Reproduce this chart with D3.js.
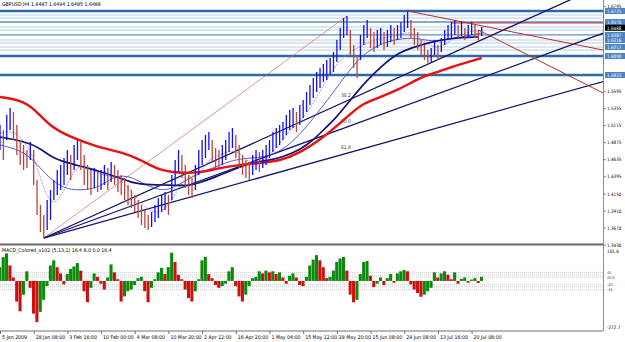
<!DOCTYPE html>
<html>
<head>
<meta charset="utf-8">
<script src="https://cdn.jsdelivr.net/npm/d3@7"></script>
<style>
  body { margin: 0; background: #fff; }
  text { font-family: "DejaVu Sans Condensed", "Liberation Sans", sans-serif; }
</style>
</head>
<body>
<div id="chart"></div>
<script>
// ---- data ----
const barHigh = [
  1.5118,1.5047,1.5259,1.5357,1.5301,1.5118,1.4906,1.4836,1.4765,1.4878,
  1.4765,1.4342,1.3990,1.3849,1.4060,1.4201,1.4342,1.4483,1.4554,1.4652,
  1.4765,1.4695,1.4836,1.4906,1.4878,1.4695,1.4554,1.4483,1.4511,1.4455,
  1.4483,1.4554,1.4511,1.4596,1.4554,1.4483,1.4413,1.4370,1.4272,1.4201,
  1.4131,1.4060,1.3990,1.3919,1.3849,1.3891,1.3990,1.4088,1.4131,1.4173,
  1.4131,1.4413,1.4624,1.4765,1.4695,1.4554,1.4413,1.4370,1.4554,1.4765,
  1.4906,1.4977,1.5019,1.4906,1.4793,1.4765,1.4836,1.4906,1.5019,1.5075,
  1.4977,1.4836,1.4695,1.4624,1.4596,1.4695,1.4765,1.4737,1.4765,1.4836,
  1.4906,1.5019,1.5075,1.5118,1.5160,1.5259,1.5329,1.5357,1.5301,1.5400,
  1.5470,1.5583,1.5682,1.5780,1.5865,1.5921,1.5978,1.6034,1.6062,1.6147,
  1.6316,1.6485,1.6626,1.6654,1.6457,1.6246,1.6105,1.6387,1.6528,1.6598,
  1.6485,1.6429,1.6457,1.6485,1.6429,1.6457,1.6528,1.6485,1.6528,1.6570,
  1.6669,1.6725,1.6598,1.6485,1.6429,1.6316,1.6246,1.6175,1.6203,1.6316,
  1.6246,1.6344,1.6457,1.6528,1.6570,1.6598,1.6528,1.6570,1.6485,1.6528,
  1.6570,1.6528,1.6457,1.6499
];
const barLow = [
  1.4765,1.4624,1.4906,1.5047,1.4906,1.4695,1.4554,1.4483,1.4511,1.4624,
  1.4272,1.3849,1.3609,1.3524,1.3637,1.3778,1.4060,1.4131,1.4201,1.4272,
  1.4413,1.4342,1.4483,1.4624,1.4483,1.4272,1.4201,1.4131,1.4229,1.4173,
  1.4201,1.4272,1.4201,1.4314,1.4272,1.4173,1.4131,1.4060,1.3990,1.3947,
  1.3891,1.3806,1.3708,1.3665,1.3637,1.3679,1.3750,1.3806,1.3891,1.3919,
  1.3849,1.4060,1.4272,1.4455,1.4370,1.4229,1.4131,1.4088,1.4201,1.4413,
  1.4554,1.4652,1.4765,1.4596,1.4511,1.4511,1.4554,1.4624,1.4737,1.4793,
  1.4652,1.4511,1.4413,1.4370,1.4342,1.4413,1.4483,1.4455,1.4511,1.4554,
  1.4652,1.4737,1.4793,1.4836,1.4906,1.4977,1.5047,1.5075,1.5019,1.5118,
  1.5216,1.5301,1.5400,1.5498,1.5583,1.5639,1.5724,1.5752,1.5823,1.5865,
  1.6006,1.6175,1.6344,1.6387,1.6105,1.5921,1.5780,1.6034,1.6246,1.6344,
  1.6203,1.6147,1.6203,1.6246,1.6175,1.6217,1.6288,1.6246,1.6316,1.6344,
  1.6429,1.6485,1.6344,1.6246,1.6175,1.6105,1.6034,1.5992,1.6006,1.6105,
  1.6034,1.6147,1.6246,1.6316,1.6344,1.6387,1.6344,1.6372,1.6316,1.6344,
  1.6387,1.6344,1.6316,1.6372
];

// moving averages, [bar, price]
const maRed = [[0,1.5512],[6,1.5470],[10,1.5357],[15,1.5089],[21,1.4948],[25,1.4878],[30,1.4793],
  [36,1.4737],[42,1.4624],[47,1.4483],[53,1.4441],[59,1.4441],[65,1.4511],[71,1.4554],[77,1.4582],
  [83,1.4610],[89,1.4723],[95,1.4906],[101,1.5146],[104,1.5273],[108,1.5428],[113,1.5512],
  [118,1.5611],[123,1.5738],[126,1.5808],[130,1.5865],[134,1.5935],[139,1.6006],[143,1.6062]];
const maNavy = [[0,1.4948],[10,1.4864],[15,1.4666],[20,1.4582],[25,1.4525],[30,1.4455],[35,1.4384],
  [39,1.4300],[45,1.4272],[50,1.4272],[56,1.4257],[59,1.4300],[64,1.4384],[69,1.4483],[74,1.4582],
  [79,1.4610],[84,1.4666],[89,1.4765],[93,1.4906],[96,1.5047],[100,1.5230],[104,1.5470],[109,1.5752],
  [113,1.5935],[118,1.6133],[123,1.6217],[128,1.6288],[134,1.6344],[142,1.6358]];
const maBlue = [[0,1.4836],[6,1.4765],[10,1.4624],[15,1.4342],[20,1.4201],[25,1.4201],[30,1.4243],
  [33,1.4384],[38,1.4413],[42,1.4300],[47,1.4201],[50,1.4201],[54,1.4300],[59,1.4441],[64,1.4525],
  [69,1.4624],[74,1.4652],[79,1.4666],[84,1.4765],[89,1.4977],[95,1.5329],[101,1.5710],[106,1.6034],
  [111,1.6217],[116,1.6316],[123,1.6358],[128,1.6288],[133,1.6330],[137,1.6358],[143,1.6415]];
const maFast = [[0,1.500],[4,1.505],[8,1.485],[11,1.455],[14,1.405],[17,1.400],[20,1.430],[23,1.455],
  [26,1.455],[30,1.440],[34,1.440],[38,1.425],[42,1.400],[46,1.385],[50,1.395],[53,1.425],[56,1.440],
  [59,1.440],[62,1.465],[66,1.470],[70,1.480],[74,1.455],[78,1.460],[82,1.478],[86,1.505],[90,1.520],
  [94,1.550],[98,1.585],[102,1.610],[106,1.620],[110,1.630],[114,1.635],[118,1.638],[122,1.645],
  [126,1.628],[130,1.618],[134,1.632],[138,1.643],[143,1.645]];

// fibonacci fan: low and high points [bar, price], levels
const fanStart = [13, 1.3524];
const fanEnd = [103, 1.6654];
const fanLevels = [0.382, 0.5, 0.618];

// red channel lines from the last top
const redLines = [
  [[121, 1.6725], [179, 1.6175]],
  [[142, 1.6457], [179, 1.5569]]
];
const redLevel = { price: 1.6556, from: 134 };

// horizontal lines
const levelsMajor = [1.6725, 1.6090, 1.5823];
const levelsMid = [1.6570, 1.6387];
const levelsMinor = [1.6669, 1.6626, 1.6499, 1.6457, 1.6316, 1.6274, 1.6217, 1.6175];
const levelTags = [1.6725, 1.6570, 1.6387, 1.6316, 1.6217, 1.6090, 1.5823];
const lastPrice = 1.6488;

const priceTicks = [1.6795, 1.5595, 1.5355, 1.5115, 1.4875, 1.4635, 1.4395, 1.4150, 1.3910, 1.3670, 1.3430];

// MACD histogram
const macdHist = [
  40,69,80,45,10,-60,-88,-40,28,-20,
  -95,-120,-90,-55,-15,45,60,40,22,-10,
  20,35,42,52,30,-30,-62,-20,22,12,
  -8,-25,10,48,25,5,-60,-45,-30,-25,
  -12,8,12,-30,-62,-20,5,25,38,20,
  40,82,55,18,5,-25,-50,-60,-30,5,
  60,70,20,8,-12,-20,-15,-8,28,40,
  -15,-45,-60,-40,-15,8,12,28,22,30,
  25,28,20,25,10,-8,15,22,10,-12,
  -15,12,45,62,75,60,40,8,12,30,
  55,65,70,30,-40,-62,-55,20,55,58,
  15,-18,-8,10,-12,8,20,-5,22,28,
  32,28,-10,-25,-35,-46,-40,-30,-20,25,
  10,22,28,18,5,25,-8,6,10,-5,
  4,8,-6,12
];
const macdLevels = [25, 17, 11, -11, -17, -25];
const macdLabelValues = [25, 11, -11, -25];
const macdLevelLabels = ["45", "20.0", "-20", "-45"];
const macdMax = "101.6", macdMin = "-272.7";

const timeLabels = ["5 Jan 2009", "28 Jan 08:00", "3 Feb 16:00", "10 Feb 00:00", "4 Mar 08:00",
  "10 Mar 20:00", "2 Apr 12:00", "16 Apr 20:00", "1 May 04:00", "15 May 12:00",
  "29 May 20:00", "15 Jun 08:00", "29 Jun 08:00", "13 Jul 16:00", "20 Jul 08:00"];
const timeTickBars = [0, 10, 20, 30, 40, 50, 60, 70, 80, 90, 100, 110, 120, 130, 140];

// ---- layout ----
const W = 625, H = 342;
const plotRight = 603;
const mainBottom = 243;
const macdTop = 246, macdBottom = 331;

const svg = d3.select("#chart").append("svg")
    .attr("width", W)
    .attr("height", H)
    .style("display", "block");

svg.append("rect").attr("width", W).attr("height", H).attr("fill", "#fff");

const x = d3.scaleLinear().domain([0, 179]).range([0, plotRight]);
const y = d3.scaleLinear().domain([1.34537, 1.688]).range([mainBottom, 0]);
const yM = d3.scaleLinear().domain([-145.6, 101.6]).range([macdBottom, macdTop]);

svg.append("clipPath").attr("id", "clipMain")
    .append("rect").attr("x", 0).attr("y", 0).attr("width", plotRight).attr("height", mainBottom);
svg.append("clipPath").attr("id", "clipMacd")
    .append("rect").attr("x", 0).attr("y", macdTop).attr("width", plotRight).attr("height", macdBottom - macdTop);

const main = svg.append("g").attr("clip-path", "url(#clipMain)");

// horizontal lines
function hlines(data, color, width) {
    main.selectAll(null).data(data).enter().append("line")
        .attr("x1", 0).attr("x2", plotRight)
        .attr("y1", d => y(d)).attr("y2", d => y(d))
        .attr("stroke", color).attr("stroke-width", width);
}
hlines(levelsMinor, "#b4cfe8", 1);
hlines(levelsMid, "#5b8fc6", 1.3);
hlines(levelsMajor, "#2f6aa8", 2.6);

// red horizontal
main.append("line")
    .attr("x1", x(redLevel.from)).attr("x2", plotRight)
    .attr("y1", y(redLevel.price)).attr("y2", y(redLevel.price))
    .attr("stroke", "#c0302c").attr("stroke-width", 1);

// fib fan
const fanX = 200;
main.append("line")
    .attr("x1", x(fanStart[0])).attr("y1", y(fanStart[1]))
    .attr("x2", x(fanEnd[0])).attr("y2", y(fanEnd[1]))
    .attr("stroke", "#d06a5a").attr("stroke-width", 0.7);

fanLevels.forEach(function(lv) {
    let p = fanEnd[1] - lv * (fanEnd[1] - fanStart[1]);
    let slope = (p - fanStart[1]) / (fanEnd[0] - fanStart[0]);
    main.append("line")
        .attr("x1", x(fanStart[0])).attr("y1", y(fanStart[1]))
        .attr("x2", x(fanX)).attr("y2", y(fanStart[1] + slope * (fanX - fanStart[0])))
        .attr("stroke", "#14146e").attr("stroke-width", 1.3);
    main.append("text")
        .attr("x", x(fanEnd[0]) - 6).attr("y", y(p) - 4)
        .attr("font-size", 5).attr("fill", "#444")
        .text(lv === 0.5 ? "50.0" : (lv * 100).toFixed(1));
});

// MAs
const maLine = d3.line().x(d => x(d[0])).y(d => y(d[1])).curve(d3.curveBasis);
main.append("path").datum(maFast).attr("d", maLine)
    .attr("fill", "none").attr("stroke", "#9c7cc4").attr("stroke-width", 0.8)
    .attr("stroke-dasharray", "2,1");
main.append("path").datum(maBlue).attr("d", maLine)
    .attr("fill", "none").attr("stroke", "#4a4ad0").attr("stroke-width", 0.9);
main.append("path").datum(maNavy).attr("d", maLine)
    .attr("fill", "none").attr("stroke", "#12127a").attr("stroke-width", 1.7);
main.append("path").datum(maRed).attr("d", maLine)
    .attr("fill", "none").attr("stroke", "#e81010").attr("stroke-width", 2.4);

// price bars
const bars = barHigh.map((h, i) => ({ i: i, h: h, l: barLow[i], m: (h + barLow[i]) / 2 }));
main.selectAll(".bar").data(bars).enter().append("line")
    .attr("class", "bar")
    .attr("x1", d => x(d.i)).attr("x2", d => x(d.i))
    .attr("y1", d => y(d.h)).attr("y2", d => y(d.l))
    .attr("stroke", (d, i) => (i === 0 || d.m >= bars[i - 1].m) ? "#1010f0" : "#b8453c")
    .attr("stroke-width", 1.3);

// red channel lines
main.selectAll(".redline").data(redLines).enter().append("line")
    .attr("x1", d => x(d[0][0])).attr("y1", d => y(d[0][1]))
    .attr("x2", d => x(d[1][0])).attr("y2", d => y(d[1][1]))
    .attr("stroke", "#b4302c").attr("stroke-width", 1);

// title
svg.append("text").attr("x", 2).attr("y", 6).attr("font-size", 5.2).attr("fill", "#000")
    .text("GBPUSD,H4  1.6487 1.6494 1.6485 1.6488");

// separator
svg.append("line").attr("x1", 0).attr("x2", plotRight).attr("y1", 244.5).attr("y2", 244.5)
    .attr("stroke", "#6a6a6a").attr("stroke-width", 2);

// ---- MACD panel ----
const macd = svg.append("g").attr("clip-path", "url(#clipMacd)");
macd.selectAll(".lvl").data(macdLevels).enter().append("line")
    .attr("x1", 0).attr("x2", plotRight)
    .attr("y1", d => yM(d)).attr("y2", d => yM(d))
    .attr("stroke", "#bdbdbd").attr("stroke-width", 0.8).attr("stroke-dasharray", "1,1");

const bw = x(1) - x(0);
macd.selectAll(".hist").data(macdHist).enter().append("rect")
    .attr("x", (d, i) => x(i) - bw / 2)
    .attr("width", bw - 0.3)
    .attr("y", d => yM(Math.max(0, d)))
    .attr("height", d => Math.abs(yM(d) - yM(0)))
    .attr("fill", (d, i) => (i === 0 || d >= macdHist[i - 1]) ? "#0a8a0a" : "#cc1010");

svg.append("text").attr("x", 2).attr("y", 252).attr("font-size", 5.2).attr("fill", "#000")
    .text("MACD_Colored_v102 (5,13,1) 16.4 8.0 0.0 16.4");

// ---- right axis ----
const yAxis = d3.axisRight(y).tickValues(priceTicks).tickSize(3).tickFormat(d3.format(".4f"));
const gY = svg.append("g").attr("transform", "translate(" + plotRight + ",0)").call(yAxis);
gY.select(".domain").remove();
gY.selectAll("text").attr("font-size", 4.6).attr("x", 4).attr("fill", "#000");
gY.selectAll("line").attr("stroke", "#808080");

svg.append("line").attr("x1", plotRight + 0.5).attr("x2", plotRight + 0.5).attr("y1", 0).attr("y2", macdBottom)
    .attr("stroke", "#8a8a8a").attr("stroke-width", 1);

// tags for horizontal lines
const tags = svg.append("g");
levelTags.forEach(function(p) {
    tags.append("rect").attr("x", plotRight + 2).attr("y", y(p) - 3).attr("width", 20).attr("height", 6)
        .attr("fill", "#4a84c4");
    tags.append("text").attr("x", plotRight + 4).attr("y", y(p) + 2).attr("font-size", 4.6)
        .attr("fill", "#fff").text(d3.format(".4f")(p));
});
tags.append("rect").attr("x", plotRight + 2).attr("y", y(lastPrice) - 3).attr("width", 20).attr("height", 6)
    .attr("fill", "#000");
tags.append("text").attr("x", plotRight + 4).attr("y", y(lastPrice) + 2).attr("font-size", 4.6)
    .attr("fill", "#fff").text(d3.format(".4f")(lastPrice));

// MACD axis labels
svg.append("text").attr("x", plotRight + 4).attr("y", yM(101.6) + 7).attr("font-size", 4.6).text(macdMax);
svg.append("text").attr("x", plotRight + 4).attr("y", yM(-145.6) - 2).attr("font-size", 4.6).text(macdMin);
svg.selectAll(".mlab").data(macdLabelValues).enter().append("text")
    .attr("x", plotRight + 4).attr("y", d => yM(d) + 1.5)
    .attr("font-size", 3.8).attr("fill", "#333")
    .text((d, i) => macdLevelLabels[i]);

// ---- time axis ----
const xAxis = d3.axisBottom(x).tickValues(timeTickBars).tickSize(3)
    .tickFormat((d, i) => timeLabels[i]);
const gX = svg.append("g").attr("transform", "translate(0," + macdBottom + ")").call(xAxis);
gX.select(".domain").attr("d", "M0,0H" + plotRight).attr("stroke", "#707070");
gX.selectAll("line").attr("stroke", "#707070");
gX.selectAll("text").attr("font-size", 5.2).attr("text-anchor", "start").attr("dx", 1.5).attr("y", 4).attr("fill", "#000");
</script>
</body>
</html>
